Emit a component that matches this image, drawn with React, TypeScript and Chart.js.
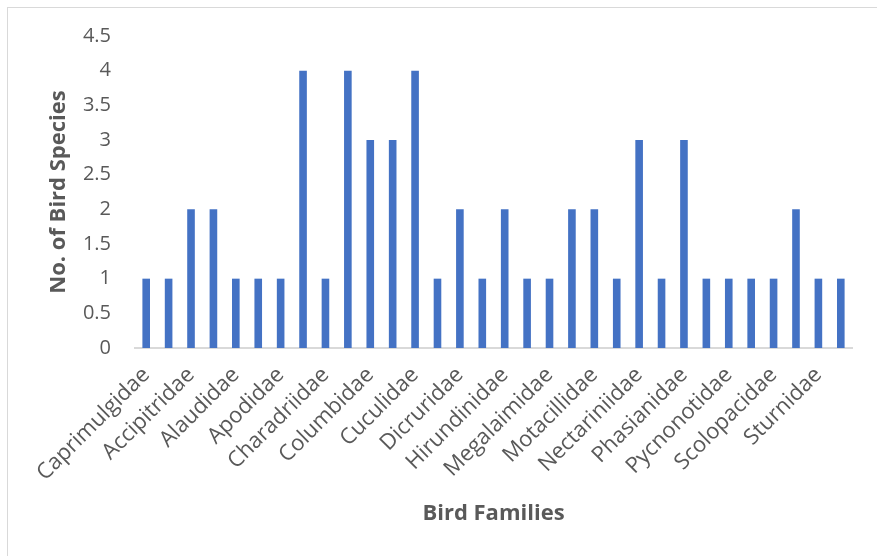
import React, { useEffect, useRef } from "react";
import { Chart, registerables } from "chart.js";

Chart.register(...registerables);

const families: string[] = [
  "Caprimulgidae", "Ardeidae", "Accipitridae", "Aegithinidae", "Alaudidae", "Alcedinidae",
  "Apodidae", "Campephagidae", "Charadriidae", "Cisticolidae", "Columbidae", "Corvidae",
  "Cuculidae", "Dicaeidae", "Dicruridae", "Estrildidae", "Hirundinidae", "Laniidae",
  "Megalaimidae", "Meropidae", "Motacillidae", "Muscicapidae", "Nectariniidae", "Oriolidae",
  "Phasianidae", "Picidae", "Pycnonotidae", "Rallidae", "Scolopacidae", "Strigidae",
  "Sturnidae", "Timaliidae",
];

const speciesCounts: number[] = [
  1, 1, 2, 2, 1, 1, 1, 4, 1, 4, 3, 3, 4, 1, 2, 1,
  2, 1, 1, 2, 2, 1, 3, 1, 3, 1, 1, 1, 1, 2, 1, 1,
];

const yTitle = "No. of Bird Species";
const xTitle = "Bird Families";

const FONT = "'Open Sans', sans-serif";
const TEXT = "#595959";

const frame = {
  id: "frame",
  beforeDraw(chart: any) {
    const ctx = chart.ctx;
    ctx.save();
    ctx.strokeStyle = "#d9d9d9";
    ctx.lineWidth = 1;
    ctx.strokeRect(7.5, 7.5, 1000, 1000);
    ctx.restore();
  },
};

export default function App() {
  const ref = useRef<HTMLCanvasElement | null>(null);
  useEffect(() => {
    if (!ref.current) return;
    const chart = new Chart(ref.current, {
      type: "bar",
      data: {
        labels: families,
        datasets: [
          {
            data: speciesCounts,
            backgroundColor: "#4472C4",
            borderWidth: 0,
            categoryPercentage: 1,
            barPercentage: 0.34,
          },
        ],
      },
      options: {
        responsive: false,
        animation: false,
        layout: { padding: { left: 0, top: 35, right: 25, bottom: 0 } },
        plugins: { legend: { display: false }, tooltip: { enabled: false } },
        scales: {
          x: {
            grid: { display: false, drawTicks: false },
            border: { display: true, color: "#d9d9d9", width: 2 },
            ticks: {
              autoSkip: false,
              minRotation: 45,
              maxRotation: 45,
              padding: 14,
              color: TEXT,
              font: { family: FONT, size: 22 },
              callback: (_v: any, i: number) => (i % 2 === 0 ? families[i] : ""),
            },
            title: {
              display: true,
              text: xTitle,
              color: TEXT,
              font: { family: FONT, size: 22, weight: "bold" },
              padding: { top: 0, bottom: 29 },
            },
            afterFit: (s: any) => {
              s.height = 208;
            },
          },
          y: {
            min: 0,
            max: 4.5,
            grid: { display: false, drawTicks: false },
            border: { display: false },
            ticks: {
              stepSize: 0.5,
              padding: 24,
              color: TEXT,
              font: { family: FONT, size: 20 },
              callback: (v: any) => String(Number(v)),
            },
            title: {
              display: true,
              text: yTitle,
              color: TEXT,
              font: { family: FONT, size: 22, weight: "bold" },
              padding: { top: 46, bottom: 0 },
            },
            afterFit: (s: any) => {
              s.width = 135;
            },
          },
        },
      },
      plugins: [frame],
    });
    return () => chart.destroy();
  }, []);
  return (
    <div style={{ position: "absolute", left: 0, top: 0, width: 877, height: 556 }}>
      <canvas ref={ref} width={877} height={556} />
    </div>
  );
}
